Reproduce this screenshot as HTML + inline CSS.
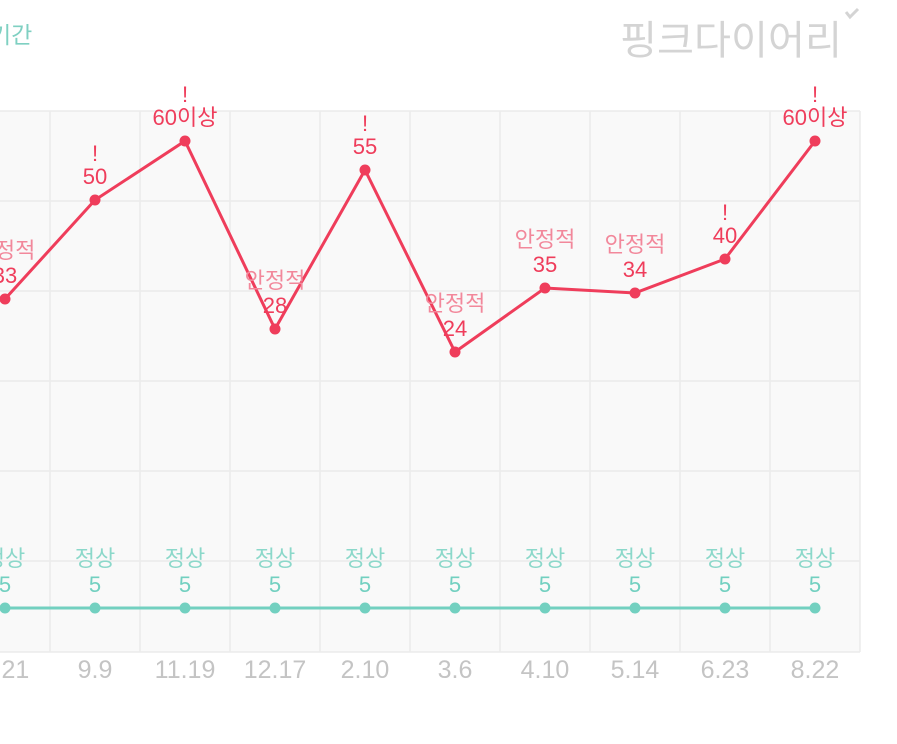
<!DOCTYPE html>
<html><head><meta charset="utf-8"><style>
body{margin:0;background:#fff;width:897px;height:739px;overflow:hidden}
text{font-family:"Liberation Sans","Noto Sans CJK KR",sans-serif}
</style></head><body>
<svg width="897" height="739" xmlns="http://www.w3.org/2000/svg">
<text x="-10" y="43" font-size="23" fill="#7fd0c2">기간</text>
<text x="620" y="54" font-size="40" fill="#d4d4d4" textLength="222" lengthAdjust="spacingAndGlyphs">핑크다이어리</text>
<path d="M846 12 l4 5 l8 -8" stroke="#d4d4d4" stroke-width="3" fill="none"/>
<rect x="0" y="111" width="860" height="541" fill="#f9f9f9"/>
<g stroke="#ebebeb" stroke-width="1.5">
<line x1="0" y1="111" x2="860" y2="111"/><line x1="0" y1="201" x2="860" y2="201"/><line x1="0" y1="291" x2="860" y2="291"/><line x1="0" y1="381" x2="860" y2="381"/><line x1="0" y1="471" x2="860" y2="471"/><line x1="0" y1="561" x2="860" y2="561"/><line x1="0" y1="652" x2="860" y2="652"/>
<line x1="50" y1="111" x2="50" y2="652"/><line x1="140" y1="111" x2="140" y2="652"/><line x1="230" y1="111" x2="230" y2="652"/><line x1="320" y1="111" x2="320" y2="652"/><line x1="410" y1="111" x2="410" y2="652"/><line x1="500" y1="111" x2="500" y2="652"/><line x1="590" y1="111" x2="590" y2="652"/><line x1="680" y1="111" x2="680" y2="652"/><line x1="770" y1="111" x2="770" y2="652"/><line x1="860" y1="111" x2="860" y2="652"/>
</g>
<polyline points="5,299 95,200 185,141 275,329 365,170 455,352 545,288 635,293 725,259 815,141" fill="none" stroke="#ef3d5b" stroke-width="3"/>
<g fill="#ef3d5b"><circle cx="5" cy="299" r="5.5"/><circle cx="95" cy="200" r="5.5"/><circle cx="185" cy="141" r="5.5"/><circle cx="275" cy="329" r="5.5"/><circle cx="365" cy="170" r="5.5"/><circle cx="455" cy="352" r="5.5"/><circle cx="545" cy="288" r="5.5"/><circle cx="635" cy="293" r="5.5"/><circle cx="725" cy="259" r="5.5"/><circle cx="815" cy="141" r="5.5"/></g>
<g font-size="22" text-anchor="middle" fill="#ef3d5b">
<text x="95" y="161">!</text><text x="95" y="184">50</text>
<text x="185" y="102">!</text><text x="185" y="125">60이상</text>
<text x="365" y="131">!</text><text x="365" y="154">55</text>
<text x="725" y="220">!</text><text x="725" y="243">40</text>
<text x="815" y="102">!</text><text x="815" y="125">60이상</text>
<text x="5" y="283">33</text><text x="275" y="313">28</text><text x="455" y="336">24</text><text x="545" y="272">35</text><text x="635" y="277">34</text>
</g>
<g font-size="22" text-anchor="middle" fill="#f2889b">
<text x="5" y="258">안정적</text><text x="275" y="288">안정적</text><text x="455" y="311">안정적</text><text x="545" y="247">안정적</text><text x="635" y="252">안정적</text>
</g>
<line x1="0" y1="608" x2="815" y2="608" stroke="#72d0c0" stroke-width="3"/>
<g fill="#72d0c0"><circle cx="5" cy="608" r="5.5"/><circle cx="95" cy="608" r="5.5"/><circle cx="185" cy="608" r="5.5"/><circle cx="275" cy="608" r="5.5"/><circle cx="365" cy="608" r="5.5"/><circle cx="455" cy="608" r="5.5"/><circle cx="545" cy="608" r="5.5"/><circle cx="635" cy="608" r="5.5"/><circle cx="725" cy="608" r="5.5"/><circle cx="815" cy="608" r="5.5"/></g>
<g font-size="22" text-anchor="middle" fill="#8bd8ca">
<text x="5" y="566">정상</text><text x="95" y="566">정상</text><text x="185" y="566">정상</text><text x="275" y="566">정상</text><text x="365" y="566">정상</text><text x="455" y="566">정상</text><text x="545" y="566">정상</text><text x="635" y="566">정상</text><text x="725" y="566">정상</text><text x="815" y="566">정상</text>
</g>
<g font-size="22" text-anchor="middle" fill="#72d0c0">
<text x="5" y="592">5</text><text x="95" y="592">5</text><text x="185" y="592">5</text><text x="275" y="592">5</text><text x="365" y="592">5</text><text x="455" y="592">5</text><text x="545" y="592">5</text><text x="635" y="592">5</text><text x="725" y="592">5</text><text x="815" y="592">5</text>
</g>
<g font-size="25" text-anchor="middle" fill="#c4c4c4">
<text x="5" y="678">8.21</text><text x="95" y="678">9.9</text><text x="185" y="678">11.19</text><text x="275" y="678">12.17</text><text x="365" y="678">2.10</text><text x="455" y="678">3.6</text><text x="545" y="678">4.10</text><text x="635" y="678">5.14</text><text x="725" y="678">6.23</text><text x="815" y="678">8.22</text>
</g>
</svg>
</body></html>
